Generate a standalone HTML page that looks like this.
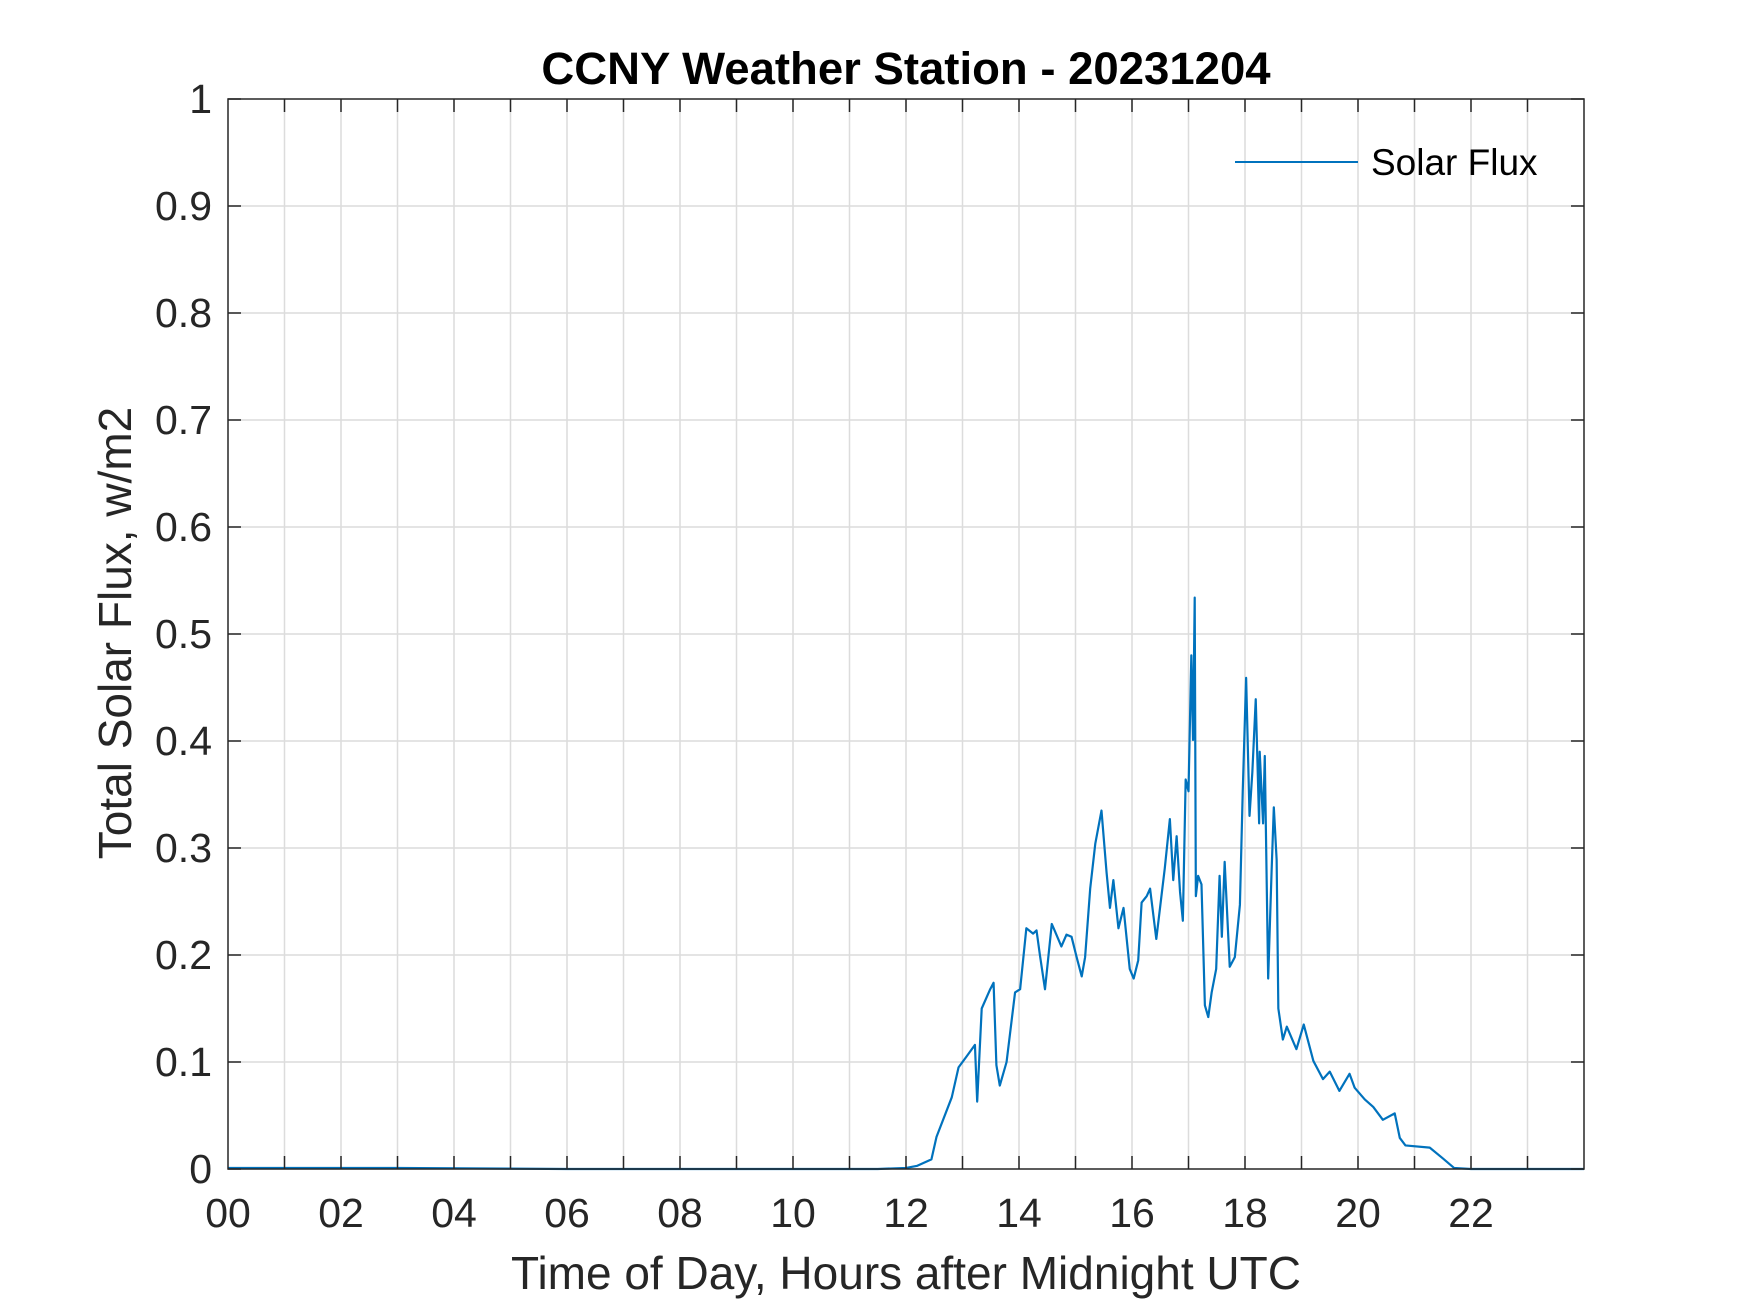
<!DOCTYPE html>
<html><head><meta charset="utf-8"><style>
html,body{margin:0;padding:0;background:#fff}
svg{display:block}
text{font-family:"Liberation Sans",Arial,sans-serif}
</style></head><body>
<svg id="chart" width="1750" height="1313" viewBox="0 0 1750 1313">
<rect x="0" y="0" width="1750" height="1313" fill="#fff"/>
<g id="grid"></g>
<g id="series"></g>
<rect x="228" y="99" width="1356" height="1070" fill="none" stroke="#262626" stroke-width="1.5"/>
<g id="ticks"></g>
<text x="906" y="84" text-anchor="middle" font-size="45.5" font-weight="bold" fill="#000">CCNY Weather Station - 20231204</text>
<text x="906" y="1289" text-anchor="middle" font-size="46" fill="#262626">Time of Day, Hours after Midnight UTC</text>
<text transform="translate(131,633) rotate(-90)" text-anchor="middle" font-size="46" fill="#262626">Total Solar Flux, w/m2</text>
<g>
<line x1="1235" y1="162" x2="1358" y2="162" stroke="#0072BD" stroke-width="2"/>
<text x="1371" y="175" font-size="37" fill="#000">Solar Flux</text>
</g>
</svg>
<script>
const hours = [0,3,6,9,11.5,12.0,12.2,12.45,12.54,12.81,12.93,13.07,13.22,13.26,13.34,13.49,13.55,13.6,13.66,13.78,13.93,14.02,14.13,14.25,14.31,14.37,14.46,14.58,14.63,14.75,14.84,14.93,15.02,15.11,15.17,15.26,15.35,15.46,15.55,15.61,15.67,15.76,15.85,15.96,16.03,16.11,16.17,16.26,16.32,16.43,16.58,16.67,16.73,16.79,16.85,16.9,16.95,17.0,17.05,17.08,17.11,17.13,17.17,17.23,17.29,17.35,17.41,17.49,17.55,17.59,17.64,17.73,17.82,17.91,17.96,18.02,18.08,18.13,18.19,18.25,18.26,18.32,18.35,18.41,18.47,18.51,18.56,18.59,18.67,18.74,18.91,19.04,19.21,19.38,19.5,19.67,19.85,19.94,20.12,20.27,20.44,20.65,20.74,20.84,21.27,21.5,21.7,22,24];
const flux = [0.001,0.001,0,0,0,0.001,0.003,0.009,0.03,0.067,0.095,0.105,0.116,0.063,0.15,0.168,0.174,0.097,0.078,0.1,0.165,0.168,0.225,0.22,0.223,0.2,0.168,0.229,0.223,0.208,0.219,0.217,0.198,0.18,0.198,0.262,0.304,0.335,0.277,0.244,0.27,0.225,0.244,0.187,0.178,0.195,0.249,0.255,0.262,0.215,0.281,0.327,0.27,0.311,0.259,0.232,0.364,0.353,0.48,0.401,0.534,0.255,0.274,0.266,0.153,0.142,0.165,0.187,0.274,0.217,0.287,0.189,0.198,0.247,0.353,0.459,0.33,0.371,0.439,0.323,0.39,0.323,0.386,0.178,0.277,0.338,0.289,0.15,0.121,0.133,0.112,0.135,0.101,0.084,0.091,0.073,0.089,0.076,0.065,0.058,0.046,0.052,0.029,0.022,0.02,0.01,0.001,0,0];
const xTickValues = [0,2,4,6,8,10,12,14,16,18,20,22];
const xTickLabels = ["00","02","04","06","08","10","12","14","16","18","20","22"];
const yTickValues = [0,0.1,0.2,0.3,0.4,0.5,0.6,0.7,0.8,0.9,1];
const yTickLabels = ["0","0.1","0.2","0.3","0.4","0.5","0.6","0.7","0.8","0.9","1"];

const L=228,R=1584,T=99,B=1169;
function xs(h){return L+(h/24)*(R-L);}
function ys(v){return B-(v/1)*(B-T);}
const NS="http://www.w3.org/2000/svg";
const grid=document.getElementById('grid'),ticks=document.getElementById('ticks'),series=document.getElementById('series');
function mk(tag,attrs,parent){const e=document.createElementNS(NS,tag);for(const k in attrs)e.setAttribute(k,attrs[k]);parent.appendChild(e);return e;}
for(let h=1;h<24;h++){
  const g=mk('line',{x1:xs(h),x2:xs(h),y1:T,y2:B,stroke:'#dcdcdc','stroke-width':1.5},grid);
  
  
  const t1=mk('line',{x1:xs(h),x2:xs(h),y1:B,y2:B-13,stroke:'#262626','stroke-width':1.5},ticks);
  
  
  const t2=mk('line',{x1:xs(h),x2:xs(h),y1:T,y2:T+13,stroke:'#262626','stroke-width':1.5},ticks);
  
  
}
xTickValues.forEach((v,i)=>{
  const t=mk('text',{x:xs(v),y:1227,'text-anchor':'middle','font-size':41,fill:'#262626'},ticks);
  t.textContent=xTickLabels[i];
  
  
});
yTickValues.forEach((v,i)=>{
  if(v>0&&v<1){
    const g=mk('line',{x1:L,x2:R,y1:ys(v),y2:ys(v),stroke:'#dcdcdc','stroke-width':1.5},grid);
    
    
  }
  const a=mk('line',{x1:L,x2:L+13,y1:ys(v),y2:ys(v),stroke:'#262626','stroke-width':1.5},ticks);
  
  
  const b=mk('line',{x1:R,x2:R-13,y1:ys(v),y2:ys(v),stroke:'#262626','stroke-width':1.5},ticks);
  
  
  const t=mk('text',{x:212,y:ys(v)+14,'text-anchor':'end','font-size':41,fill:'#262626'},ticks);
  t.textContent=yTickLabels[i];
  
  
});
const d=hours.map((h,i)=>(i?'L':'M')+xs(h).toFixed(2)+' '+ys(flux[i]).toFixed(2)).join(' ');
const p=mk('path',{d:d,fill:'none',stroke:'#0072BD','stroke-width':2.2,'stroke-linejoin':'round'},series);


</script>
</body></html>
